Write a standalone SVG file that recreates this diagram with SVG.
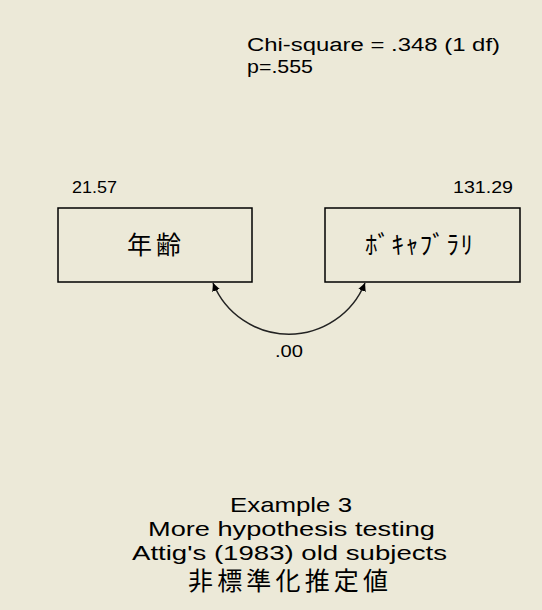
<svg xmlns="http://www.w3.org/2000/svg" width="542" height="610" viewBox="0 0 542 610">
<style>
text{font-family:"Liberation Sans","Noto Sans CJK JP",sans-serif;fill:#000}
.t{font-size:18px}
.n{font-size:17px}
.b{font-size:21px}
.j{font-size:25px;font-family:"Noto Sans CJK JP","Liberation Sans",sans-serif}
.node{fill:none;stroke:#000;stroke-width:1.5}
.conn{fill:none;stroke:#222;stroke-width:1.5}
</style>
<defs>
<marker id="ah" viewBox="0 0 10 10" refX="10" refY="5" markerWidth="8" markerHeight="9" markerUnits="userSpaceOnUse" orient="auto-start-reverse">
<path d="M0,0 L10,5 L0,10 z" fill="#000"/>
</marker>
</defs>
<rect width="542" height="610" fill="#ECE9D8"/>
<text class="t" x="247" y="51" textLength="253" lengthAdjust="spacingAndGlyphs">Chi-square = .348 (1 df)</text>
<text class="t" x="247" y="73" textLength="66" lengthAdjust="spacingAndGlyphs">p=.555</text>
<g id="age">
<rect class="node" x="58" y="208" width="194" height="74"/>
<text class="j" x="127" y="254" textLength="54" lengthAdjust="spacing">年齢</text>
<text class="n" x="72" y="193" textLength="45" lengthAdjust="spacingAndGlyphs">21.57</text>
</g>
<g id="vocab">
<rect class="node" x="325" y="208" width="195" height="74"/>
<text class="j" x="365" y="254" textLength="108" lengthAdjust="spacing">ﾎﾞｷｬﾌﾞﾗﾘ</text>
<text class="n" x="453" y="193" textLength="60" lengthAdjust="spacingAndGlyphs">131.29</text>
</g>
<g id="connectors">
<path class="conn" d="M213,283 A82,82 0 0 0 365,283" marker-start="url(#ah)" marker-end="url(#ah)"/>
<text class="n" x="275" y="357" textLength="28" lengthAdjust="spacingAndGlyphs">.00</text>
</g>
<text class="b" x="230" y="512" textLength="122" lengthAdjust="spacingAndGlyphs">Example 3</text>
<text class="b" x="148" y="536" textLength="287" lengthAdjust="spacingAndGlyphs">More hypothesis testing</text>
<text class="b" x="132" y="560" textLength="315" lengthAdjust="spacingAndGlyphs">Attig's (1983) old subjects</text>
<text class="j" x="188" y="590" font-size="26" textLength="200" lengthAdjust="spacing">非標準化推定値</text>
</svg>
